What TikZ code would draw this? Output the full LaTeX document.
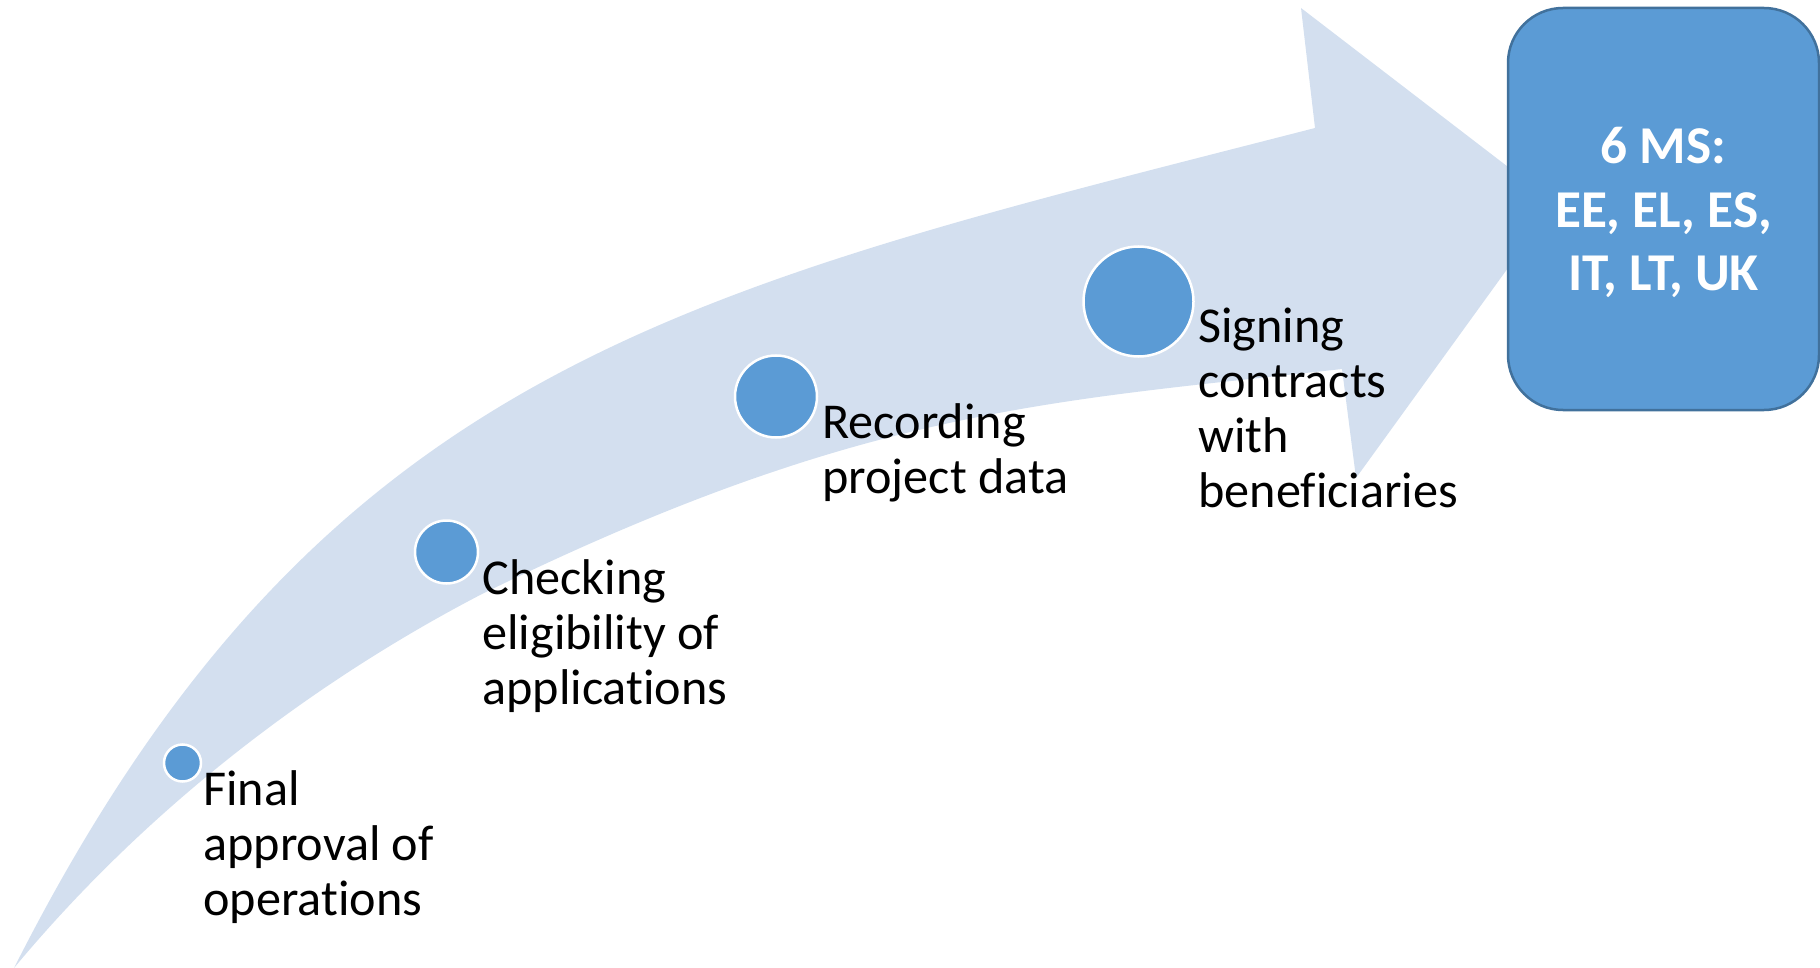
\documentclass[tikz,border=0pt]{standalone}
\usepackage{fontspec}
\setmainfont{Carlito}[Ligatures=NoCommon]
\definecolor{arrowfill}{HTML}{D3DFEF}
\definecolor{dotfill}{HTML}{5B9BD5}
\definecolor{boxline}{HTML}{41719C}
\tikzset{
  dot/.style={circle, fill=dotfill, draw=white, line width=1.25pt, inner sep=0pt},
  lbl/.style={anchor=base west, inner sep=0pt, align=left, text=black,
    font=\fontsize{25.1}{27.5}\selectfont},
  msbox/.style={rectangle, rounded corners=27.5pt, fill=dotfill, draw=boxline,
    line width=1.25pt, minimum width=155.5pt, minimum height=201pt, inner sep=0pt},
  mstext/.style={anchor=base, inner sep=0pt, align=center, text=white,
    font=\fontsize{26.6}{31.75}\selectfont\bfseries}
}
\begin{document}
\begin{tikzpicture}[x=0.5pt,y=-0.5pt]
\useasboundingbox (0,0) rectangle (1820,968);
% curved arrow
\fill[arrowfill]
  (14,968) .. controls (320,363) and (684,290) .. (1315,128)
  -- (1301,8) -- (1555,203) -- (1356,478) -- (1342,369)
  .. controls (1045,402) and (860,409) .. (482,594)
  .. controls (305,686) and (142,814) .. (14,968)
  -- cycle;
% target box
\node[msbox] (ms) at (1663.5,209) {};
\node[mstext] (mst) at (1663.5,291) {6 MS:\\EE, EL, ES,\\IT, LT, UK};
% dots
\node[dot, minimum size=18.5pt] (d1) at (182.5,763) {};
\node[dot, minimum size=31.5pt] (d2) at (446.5,552) {};
\node[dot, minimum size=41pt] (d3) at (776,396.5) {};
\node[dot, minimum size=55pt] (d4) at (1138.5,301.5) {};
% labels
\node[lbl] (l1) at (203,915) {Final\\approval of\\operations};
\node[lbl] (l2) at (482,704) {Checking\\eligibility of\\applications};
\node[lbl] (l3) at (822,493) {Recording\\project data};
\node[lbl] (l4) at (1198,507) {Signing\\contracts\\with\\beneficiaries};
\end{tikzpicture}
\end{document}
